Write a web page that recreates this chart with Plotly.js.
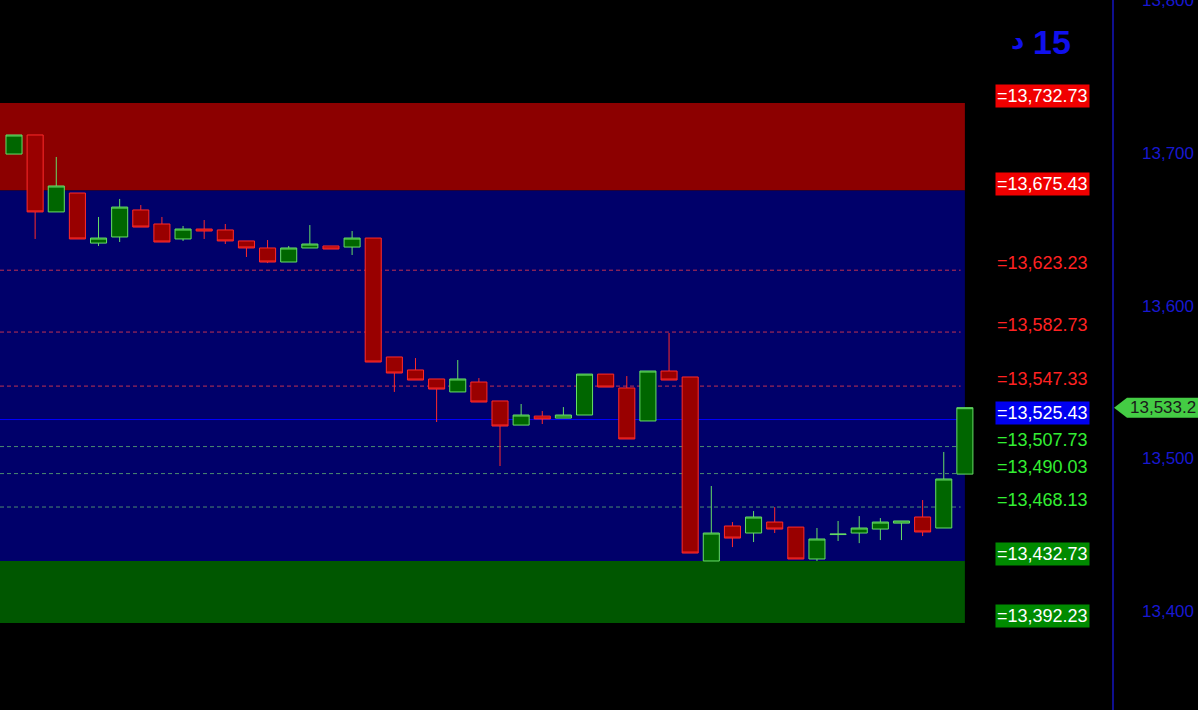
<!DOCTYPE html>
<html>
<head>
<meta charset="utf-8">
<script src="https://cdn.plot.ly/plotly-3.0.1.min.js"></script>
<style>html,body{margin:0;padding:0;background:#000;}#chart{width:1198px;height:710px;}</style>
</head>
<body>
<div id="chart"></div>
<script>
// ---- candle data (15-minute bars) ----
const open  = [13699.3,13711.8,13661.4,13673.8,13641.0,13645.0,13662.7,13653.5,13643.7,13650.2,13649.6,13642.4,13637.8,13628.6,13637.8,13639.1,13638.4,13644.3,13566.4,13557.9,13552.0,13543.5,13550.0,13537.6,13521.8,13527.7,13526.4,13528.4,13555.2,13546.1,13524.5,13557.2,13553.3,13432.8,13455.7,13451.1,13458.3,13455.0,13434.1,13450.1,13451.1,13453.7,13457.6,13461.6,13454.4,13489.7];
const high  = [13711.8,13711.8,13697.4,13673.8,13658.1,13669.9,13665.9,13658.1,13652.2,13656.1,13653.5,13642.4,13643.0,13639.1,13652.8,13639.1,13648.9,13644.3,13566.4,13565.7,13552.0,13564.4,13552.6,13537.6,13535.6,13531.0,13533.6,13555.2,13555.2,13553.9,13557.2,13582.1,13553.3,13481.9,13458.3,13465.5,13468.1,13455.0,13454.4,13459.0,13462.2,13460.9,13459.0,13472.7,13504.2,13533.2];
const low   = [13699.3,13643.7,13661.4,13643.7,13639.1,13641.7,13651.5,13641.7,13642.4,13643.7,13640.4,13631.9,13627.9,13628.6,13637.8,13637.1,13633.2,13563.1,13543.5,13551.3,13523.8,13543.5,13536.9,13495.0,13521.8,13522.5,13526.4,13528.4,13546.7,13512.7,13524.5,13551.3,13438.0,13432.8,13441.9,13445.2,13451.1,13434.1,13432.8,13445.9,13444.5,13446.5,13446.5,13449.1,13454.4,13489.7];
const close = [13711.8,13661.4,13678.4,13643.7,13644.3,13664.6,13651.5,13641.7,13650.2,13648.9,13642.4,13637.8,13628.6,13637.8,13640.4,13637.1,13644.3,13563.1,13555.9,13551.3,13545.4,13552.0,13536.9,13521.2,13528.4,13525.8,13528.4,13555.2,13546.7,13512.7,13557.2,13551.3,13438.0,13451.1,13447.8,13461.6,13453.7,13434.1,13447.2,13450.4,13454.4,13458.3,13459.0,13451.8,13486.5,13533.2];

// ---- level lines and labels ----
const levelValues = [13732.73,13675.43,13623.23,13582.73,13547.33,13525.43,13507.73,13490.03,13468.13,13432.73,13392.23];
const levelLabels = ["=13,732.73","=13,675.43","=13,623.23","=13,582.73","=13,547.33","=13,525.43","=13,507.73","=13,490.03","=13,468.13","=13,432.73","=13,392.23"];
const levelKinds  = ["redBox","redBox","red","red","red","blueBox","green","green","green","greenBox","greenBox"];

// ---- axis ticks ----
const yTickVals = [13400,13500,13600,13700,13800];
const yTickText = ["13,400","13,500","13,600","13,700","13,800"];

const lastPrice = 13533.2;
const lastPriceLabel = "13,533.2";
const periodNumber = "15";
const periodUnit = "د";

const idx = close.map((_, i) => i);
const nBars = close.length;
const xStart = -0.663;
const xEnd = 52.01;
const bandEnd = nBars - 1;

const styles = {
  redBox:   {bg: "#f00000", fg: "#ffffff"},
  red:      {bg: "rgba(0,0,0,0)", fg: "#ff2222"},
  blueBox:  {bg: "#0000f0", fg: "#ffffff"},
  green:    {bg: "rgba(0,0,0,0)", fg: "#33ee33"},
  greenBox: {bg: "#008a00", fg: "#ffffff"}
};

const shapes = [
  {type: "rect", xref: "x", yref: "y", x0: xStart, x1: bandEnd, y0: levelValues[1], y1: levelValues[0], fillcolor: "#8c0000", line: {width: 0}, layer: "below"},
  {type: "rect", xref: "x", yref: "y", x0: xStart, x1: bandEnd, y0: levelValues[9], y1: levelValues[1], fillcolor: "#00006a", line: {width: 0}, layer: "below"},
  {type: "rect", xref: "x", yref: "y", x0: xStart, x1: bandEnd, y0: levelValues[10], y1: levelValues[9], fillcolor: "#005700", line: {width: 0}, layer: "below"}
];
[2,3,4].forEach(i => shapes.push({type: "line", xref: "x", yref: "y", x0: xStart, x1: bandEnd - 0.2, y0: levelValues[i], y1: levelValues[i], line: {color: "#c03050", width: 1, dash: "4px,3px"}, layer: "below"}));
[6,7,8].forEach(i => shapes.push({type: "line", xref: "x", yref: "y", x0: xStart, x1: bandEnd - 0.2, y0: levelValues[i], y1: levelValues[i], line: {color: "#4a8a70", width: 1, dash: "4px,3px"}, layer: "below"}));
shapes.push({type: "line", xref: "x", yref: "y", x0: xStart, x1: bandEnd, y0: levelValues[5], y1: levelValues[5], line: {color: "#0000ff", width: 1}, layer: "below"});
// axis line (right side)
shapes.push({type: "line", xref: "paper", yref: "paper", x0: 1, x1: 1, y0: 0, y1: 1, line: {color: "#1a1aee", width: 1.2}, layer: "above"});
// last price tag
shapes.push({type: "path", xref: "paper", yref: "y", xsizemode: "pixel", ysizemode: "pixel", xanchor: 1, yanchor: lastPrice,
  path: "M 1 0 L 14 10 L 100 10 L 100 -10 L 14 -10 Z", fillcolor: "#44cc44", line: {width: 0}, layer: "above"});

const annotations = levelValues.map((v, i) => {
  const s = styles[levelKinds[i]];
  return {xref: "paper", yref: "y", x: 995 / 1113, y: v, xanchor: "left", yanchor: "middle", yshift: 7,
    text: levelLabels[i], showarrow: false, bgcolor: s.bg, borderpad: 1,
    font: {family: "Liberation Sans, Arial, sans-serif", size: 18, color: s.fg}};
});
annotations.push({xref: "paper", yref: "y", x: 1128 / 1113, y: lastPrice, xanchor: "left", yanchor: "middle",
  text: lastPriceLabel, showarrow: false, font: {family: "Liberation Sans, Arial, sans-serif", size: 17, color: "#1a1a1a"}});
annotations.push({xref: "paper", yref: "paper", x: 1052 / 1113, y: 1 - 42 / 710, xanchor: "center", yanchor: "middle",
  text: "<b>" + periodNumber + "</b>", showarrow: false, font: {family: "Liberation Sans, Arial, sans-serif", size: 34, color: "#1010ee"}});
annotations.push({xref: "paper", yref: "paper", x: 1017 / 1113, y: 1 - 40 / 710, xanchor: "center", yanchor: "middle",
  text: "<b>" + periodUnit + "</b>", showarrow: false, font: {family: "DejaVu Sans, Noto Sans, sans-serif", size: 26, color: "#1010ee"}});

const trace = {
  type: "candlestick", x: idx, open: open, high: high, low: low, close: close,
  increasing: {line: {color: "#66dd66", width: 1}, fillcolor: "#006600"},
  decreasing: {line: {color: "#ff2a2a", width: 1}, fillcolor: "#990000"},
  whiskerwidth: 0, hoverinfo: "skip", showlegend: false
};

const layout = {
  width: 1198, height: 710,
  margin: {l: 0, r: 85, t: 0, b: 0, pad: 0},
  paper_bgcolor: "#000000", plot_bgcolor: "#000000",
  boxgap: 0.24, boxgroupgap: 0,
  showlegend: false,
  xaxis: {range: [xStart, xEnd], visible: false, rangeslider: {visible: false}, fixedrange: true},
  yaxis: {range: [13335.2, 13800.2], side: "right", showgrid: false, zeroline: false,
    showline: false, ticks: "", ticklabeloverflow: "allow",
    tickvals: yTickVals, ticktext: yTickText, ticklabelstandoff: 28,
    tickfont: {family: "Liberation Sans, Arial, sans-serif", size: 17, color: "#1818d0"}, fixedrange: true},
  shapes: shapes,
  annotations: annotations
};

Plotly.newPlot("chart", [trace], layout, {displayModeBar: false, staticPlot: true});
</script>
</body>
</html>
